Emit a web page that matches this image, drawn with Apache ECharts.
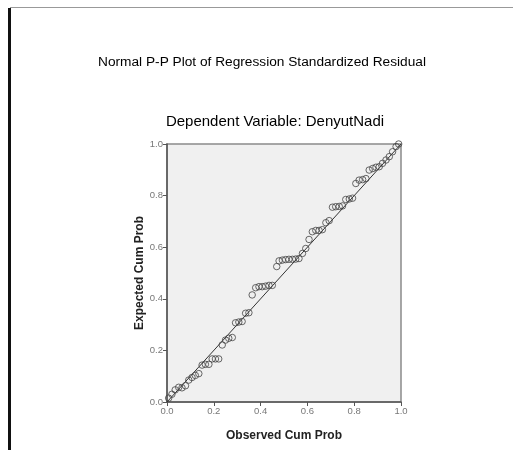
<!DOCTYPE html>
<html>
<head>
<meta charset="utf-8">
<script src="https://cdn.jsdelivr.net/npm/echarts@6/dist/echarts.min.js"></script>
<style>html,body{margin:0;padding:0;background:#fff}#c{width:513px;height:450px}</style>
</head>
<body>
<div id="c"></div>
<script>
var observed = [0.007,0.021,0.035,0.05,0.064,0.079,0.093,0.107,0.121,0.136,0.15,0.164,0.179,0.193,0.207,0.221,0.236,0.25,0.264,0.279,0.293,0.307,0.321,0.336,0.35,0.364,0.379,0.393,0.407,0.421,0.436,0.45,0.469,0.479,0.493,0.507,0.521,0.536,0.55,0.564,0.579,0.593,0.607,0.621,0.636,0.65,0.664,0.679,0.693,0.707,0.721,0.736,0.75,0.764,0.779,0.793,0.807,0.821,0.836,0.85,0.864,0.879,0.893,0.907,0.921,0.936,0.95,0.964,0.979,0.99];
var expected = [0.015,0.03,0.047,0.057,0.055,0.063,0.085,0.095,0.103,0.11,0.143,0.146,0.146,0.167,0.167,0.167,0.221,0.24,0.247,0.25,0.307,0.31,0.312,0.344,0.346,0.415,0.443,0.447,0.447,0.449,0.452,0.452,0.525,0.547,0.55,0.552,0.553,0.553,0.554,0.556,0.576,0.595,0.63,0.66,0.665,0.665,0.668,0.695,0.703,0.755,0.757,0.758,0.76,0.785,0.787,0.79,0.847,0.86,0.862,0.866,0.899,0.905,0.91,0.912,0.925,0.938,0.951,0.97,0.99,1.0];
var ticks = [0, 0.2, 0.4, 0.6, 0.8, 1.0];
var refLine = [[0, 0], [1, 1]];

var pts = observed.map(function (x, i) { return [x, expected[i]]; });
var chart = echarts.init(document.getElementById('c'), null, {renderer: 'canvas'});
var axisCommon = {
  type: 'value', min: 0, max: 1, interval: 0.2,
  nameLocation: 'middle',
  nameTextStyle: {fontFamily: 'Liberation Sans', fontWeight: 'bold', fontSize: 12, color: '#222'},
  axisLine: {show: true, lineStyle: {color: '#555', width: 1.5}},
  axisTick: {show: true, length: 4, lineStyle: {color: '#555'}},
  axisLabel: {fontFamily: 'Liberation Sans', fontSize: 9.5, color: '#777', margin: 4,
    formatter: function (v) { return v.toFixed(1); }},
  splitLine: {show: false}
};
chart.setOption({
  animation: false,
  backgroundColor: '#fff',
  grid: {left: 167, right: 112, top: 144, bottom: 48, show: true, backgroundColor: '#f0f0f0', borderColor: '#8a8a8a', borderWidth: 1.5},
  xAxis: Object.assign({}, axisCommon, {name: 'Observed Cum Prob', nameGap: 28}),
  yAxis: Object.assign({}, axisCommon, {name: 'Expected Cum Prob', nameGap: 18}),
  graphic: [
    {type: 'rect', shape: {x: 8, y: 8, width: 3, height: 442}, style: {fill: '#111'}},
    {type: 'line', shape: {x1: 10, y1: 7.5, x2: 513, y2: 7.5}, style: {stroke: '#999', lineWidth: 1}},
    {type: 'text', x: 262, y: 62, style: {text: 'Normal P-P Plot of Regression Standardized Residual', font: '13.7px "Liberation Sans"', fill: '#000', align: 'center', verticalAlign: 'middle'}},
    {type: 'text', x: 275, y: 122, style: {text: 'Dependent Variable: DenyutNadi', font: '15px "Liberation Sans"', fill: '#000', align: 'center', verticalAlign: 'middle'}}
  ],
  series: [
    {type: 'line', data: refLine, symbol: 'none', lineStyle: {color: '#333', width: 1}, z: 2},
    {type: 'scatter', data: pts, symbol: 'circle', symbolSize: 6.5,
      itemStyle: {color: 'rgba(0,0,0,0)', borderColor: '#444', borderWidth: 1}, z: 3}
  ]
});
</script>
</body>
</html>
